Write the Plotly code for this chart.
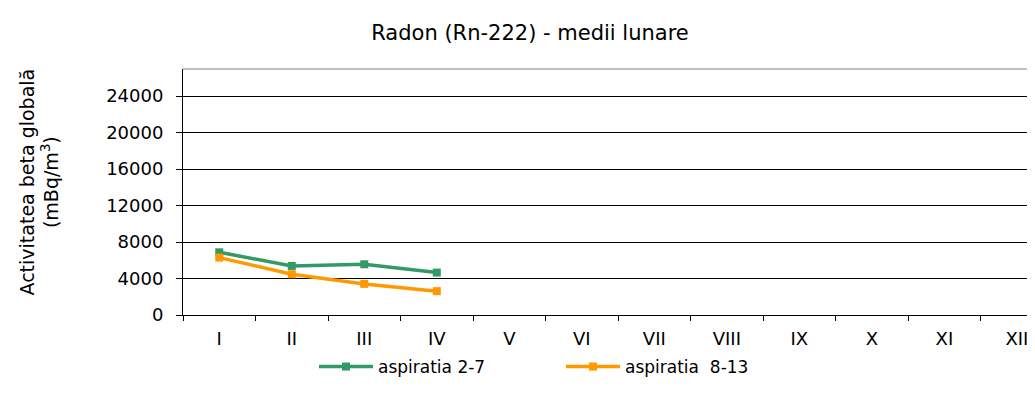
import plotly.graph_objects as go

months = ["I", "II", "III", "IV", "V", "VI", "VII", "VIII", "IX", "X", "XI", "XII"]
asp_2_7 = [6870, 5380, 5560, 4650]
asp_8_13 = [6290, 4470, 3410, 2615]
y_ticks = [0, 4000, 8000, 12000, 16000, 20000, 24000]

FONT = "DejaVu Sans, Arial, sans-serif"
W, H = 1027, 395
L, T, B = 175, 61, 88
PW = W - L
PH = H - T - B

fig = go.Figure()
fig.add_trace(go.Scatter(
    x=months[:len(asp_2_7)], y=asp_2_7, name="aspiratia 2-7",
    mode="lines+markers",
    line=dict(color="#339966", width=3.5),
    marker=dict(symbol="square", size=8, color="#339966"),
))
fig.add_trace(go.Scatter(
    x=months[:len(asp_8_13)], y=asp_8_13, name="aspiratia\u00a0\u00a08-13",
    mode="lines+markers",
    line=dict(color="#FF9900", width=3.5),
    marker=dict(symbol="square", size=8, color="#FF9900"),
))

fig.update_layout(
    template="none",
    width=W, height=H,
    margin=dict(l=L, r=0, t=T, b=B, autoexpand=False),
    paper_bgcolor="white", plot_bgcolor="white",
    font=dict(family=FONT, size=17, color="black"),
    title=dict(text="Radon (Rn-222) - medii lunare", x=(522 - L) / PW, xanchor="center",
               xref="paper", y=1 - 25 / H, yref="container", yanchor="middle",
               font=dict(size=21, family=FONT)),
    showlegend=True,
    legend=dict(orientation="h", x=(312 - L - 6) / PW, xanchor="left",
                y=-(359 - (T + PH)) / PH, yanchor="middle",
                itemwidth=54, entrywidth=178, entrywidthmode="pixels",
                font=dict(size=17, family=FONT), bgcolor="rgba(0,0,0,0)",
                borderwidth=0),
    xaxis=dict(
        type="category", categoryorder="array", categoryarray=months,
        tickvals=months, ticktext=months,
        range=[-0.5, 11.25], tickson="boundaries",
        ticks="outside", ticklen=5, tickcolor="black",
        ticklabelstandoff=7,
        showline=True, linecolor="black", linewidth=1,
        showgrid=False, zeroline=False, tickfont=dict(size=18),
        automargin=False,
    ),
    yaxis=dict(
        range=[0, 26960], tickvals=y_ticks, ticktext=[str(v) for v in y_ticks],
        ticks="outside", ticklen=6, tickcolor="black",
        ticklabelstandoff=9,
        showline=True, linecolor="black", linewidth=1,
        showgrid=True, gridcolor="black", gridwidth=1, zeroline=False,
        tickfont=dict(size=18), automargin=False,
    ),
)
fig.add_annotation(
    text="Activitatea beta globală<br>(mBq/m<sup>3</sup>)",
    textangle=-90, xref="paper", yref="paper",
    x=(30.5 - L) / PW, y=(T + PH - 174) / PH,
    xanchor="center", yanchor="middle", showarrow=False,
    font=dict(size=19, family=FONT),
)
fig.add_shape(type="line", xref="paper", yref="paper", x0=0, x1=1, y0=1, y1=1,
              line=dict(color="#808080", width=1))

fig.write_html("out.html")
